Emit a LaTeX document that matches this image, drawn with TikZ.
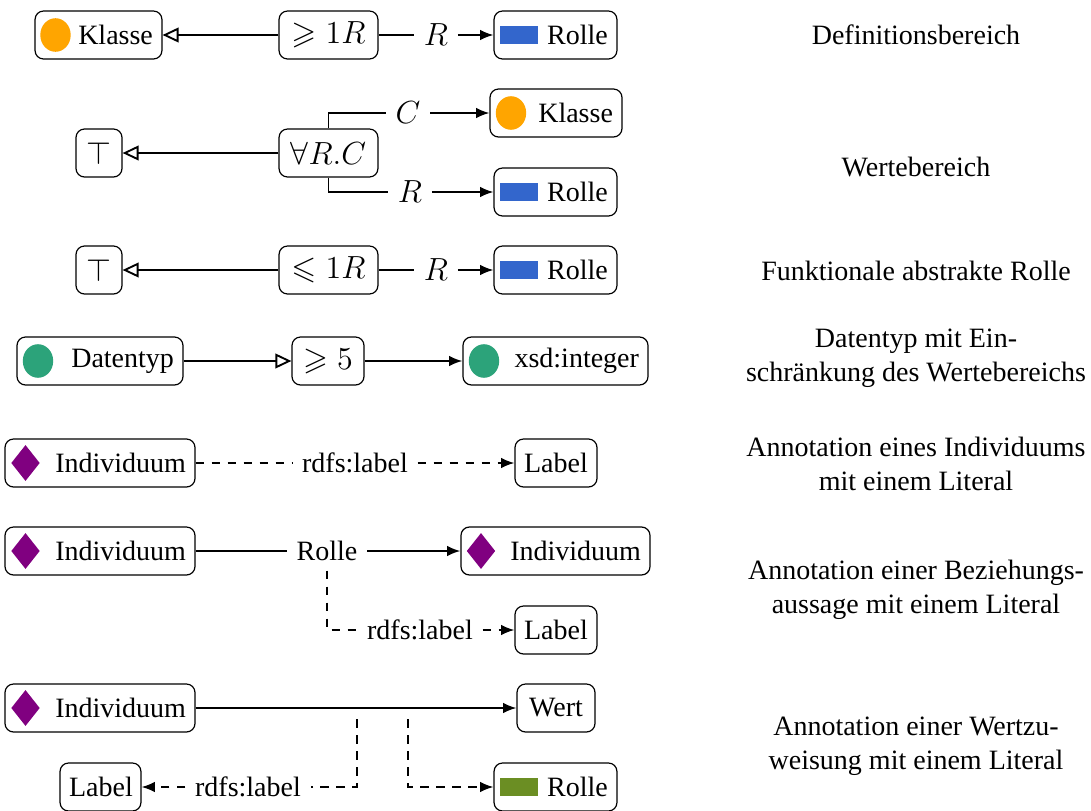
\documentclass[tikz,border=0pt]{standalone}
\usepackage{amssymb}
\usepackage{fontspec}
\setmainfont{Liberation Serif}
\usetikzlibrary{arrows.meta,shapes.geometric}
\definecolor{klasseorange}{RGB}{255,165,0}
\definecolor{rolleblue}{RGB}{51,102,204}
\definecolor{datagreen}{RGB}{44,163,122}
\definecolor{indpurple}{RGB}{128,0,128}
\definecolor{wertolive}{RGB}{107,142,35}
\tikzset{
  txt/.style={font=\fontsize{10.5}{12.8}\selectfont},
  mathtxt/.style={font=\fontsize{12}{14}\selectfont},
  box/.style={draw, line width=0.45pt, rounded corners=3.2pt, minimum height=18pt,
    inner xsep=3.4pt, inner ysep=0pt, txt},
  iconbox/.style={box, align=right, text width=#1},
  plainbox/.style={box, align=center, text width=#1},
  lbl/.style={inner sep=3.5pt, txt},
  mlbl/.style={inner sep=3.5pt, mathtxt},
  desc/.style={align=center, txt, inner sep=0pt},
  klassedot/.style={ellipse, fill=klasseorange, inner sep=0pt, minimum width=11.4pt, minimum height=12.6pt},
  datadot/.style={ellipse, fill=datagreen, inner sep=0pt, minimum width=11.4pt, minimum height=12.6pt},
  rollebar/.style={rectangle, fill=#1, inner sep=0pt, minimum width=14.5pt, minimum height=6.6pt},
  inddiamond/.style={diamond, fill=indpurple, inner sep=0pt, minimum width=10.8pt, minimum height=13.6pt},
  conn/.style={line width=0.7pt},
  arr/.style={conn, -{Latex[length=5pt,width=4pt]}},
  opentri/.style={conn, -{Triangle[open,length=6pt,width=5.5pt]}},
  dsh/.style={dash pattern=on 3.2pt off 2.8pt},
}
\begin{document}
\begin{tikzpicture}[x=0.375pt, y=-0.375pt]
\useasboundingbox (0,0) rectangle (1091,811);

% --- Definitionsbereich
\node[iconbox=40.8pt] (k1) at (98.5,35) {Klasse};
\node[klassedot] (k1i) at (55.5,35) {};
\node[plainbox=30.3pt, mathtxt] (g1) at (328.5,35) {$\geqslant 1R$};
\node[mlbl] (r1l) at (436,35) {$R$};
\node[iconbox=39.3pt] (ro1) at (555.5,35) {Rolle};
\node[rollebar=rolleblue] (ro1i) at (519,35) {};
\draw[opentri] (g1) -- (k1);
\draw[conn] (g1) -- (r1l);
\draw[arr] (r1l) -- (ro1);
\node[desc] (d1) at (916,35) {Definitionsbereich};

% --- Wertebereich
\node[plainbox=10.45pt, mathtxt] (t2) at (99,153) {$\top$};
\node[plainbox=30.3pt, mathtxt] (a2) at (328.5,153) {$\forall R.C$};
\node[iconbox=42.7pt] (k2) at (556,113) {Klasse};
\node[klassedot] (k2i) at (511,113) {};
\node[iconbox=39.3pt] (ro2) at (555.5,192) {Rolle};
\node[rollebar=rolleblue] (ro2i) at (519,192) {};
\node[mlbl] (c2l) at (408,113) {$C$};
\node[mlbl] (r2l) at (410,192) {$R$};
\draw[opentri] (a2) -- (t2);
\draw[conn] (a2.north) |- (c2l);
\draw[arr] (c2l) -- (k2);
\draw[conn] (a2.south) |- (r2l);
\draw[arr] (r2l) -- (ro2);
\node[desc] (d2) at (916,167) {Wertebereich};

% --- Funktionale abstrakte Rolle
\node[plainbox=10.45pt, mathtxt] (t3) at (99,270) {$\top$};
\node[plainbox=30.3pt, mathtxt] (l3) at (328.5,270) {$\leqslant 1R$};
\node[mlbl] (r3l) at (436,270) {$R$};
\node[iconbox=39.3pt] (ro3) at (555.5,270) {Rolle};
\node[rollebar=rolleblue] (ro3i) at (519,270) {};
\draw[opentri] (l3) -- (t3);
\draw[conn] (l3) -- (r3l);
\draw[arr] (r3l) -- (ro3);
\node[desc] (d3) at (916,271) {Funktionale abstrakte Rolle};

% --- Datentyp mit Einschraenkung
\node[iconbox=55.45pt] (dt4) at (100,361) {Datentyp};
\node[datadot] (dt4i) at (38,361) {};
\node[plainbox=20.2pt, mathtxt] (g4) at (328,361) {$\geqslant 5$};
\node[iconbox=62.6pt] (x4) at (555.5,361) {xsd:integer};
\node[datadot] (x4i) at (484,361) {};
\draw[opentri] (dt4) -- (g4);
\draw[arr] (g4) -- (x4);
\node[desc] (d4) at (916,358) {Datentyp mit Ein-\\schränkung des Wertebereichs};

% --- Annotation eines Individuums
\node[iconbox=64.45pt] (i5) at (100,463) {Individuum};
\node[inddiamond] (i5i) at (25.5,463) {};
\node[lbl] (rl5) at (355,463) {rdfs:label};
\node[plainbox=23.95pt] (lab5) at (556,463) {Label};
\draw[conn, dsh] (i5) -- (rl5);
\draw[arr, dsh] (rl5) -- (lab5);
\node[desc] (d5) at (916,464) {Annotation eines Individuums\\mit einem Literal};

% --- Annotation einer Beziehungsaussage
\node[iconbox=64.45pt] (i6) at (100,551) {Individuum};
\node[inddiamond] (i6i) at (25.5,551) {};
\node[lbl] (rol6) at (327,551) {Rolle};
\node[iconbox=64.1pt] (i6b) at (555.5,551) {Individuum};
\node[inddiamond] (i6bi) at (481,551) {};
\node[lbl] (rl6) at (420,630) {rdfs:label};
\node[plainbox=23.95pt] (lab6) at (556,630) {Label};
\draw[conn] (i6) -- (rol6);
\draw[arr] (rol6) -- (i6b);
\draw[conn, dsh] (rol6.south) |- (rl6);
\draw[arr, dsh] (rl6) -- (lab6);
\node[desc] (d6) at (916,590) {Annotation einer Beziehungs-\\aussage mit einem Literal};

% --- Annotation einer Wertzuweisung
\node[iconbox=64.45pt] (i7) at (100,708) {Individuum};
\node[inddiamond] (i7i) at (25.5,708) {};
\node[plainbox=22.45pt] (w7) at (556,708) {Wert};
\node[plainbox=23.55pt] (lab7) at (100.5,787) {Label};
\node[lbl] (rl7) at (248,787) {rdfs:label};
\node[iconbox=39.3pt] (ro7) at (555.5,787) {Rolle};
\node[rollebar=wertolive] (ro7i) at (519,787) {};
\coordinate (c7a) at (357,719);
\coordinate (c7b) at (408,719);
\draw[arr] (i7) -- (w7);
\draw[conn, dsh] (c7a) |- (rl7);
\draw[arr, dsh] (rl7) -- (lab7);
\draw[arr, dsh] (c7b) |- (ro7);
\node[desc] (d7) at (916,746) {Annotation einer Wertzu-\\weisung mit einem Literal};
\end{tikzpicture}
\end{document}
